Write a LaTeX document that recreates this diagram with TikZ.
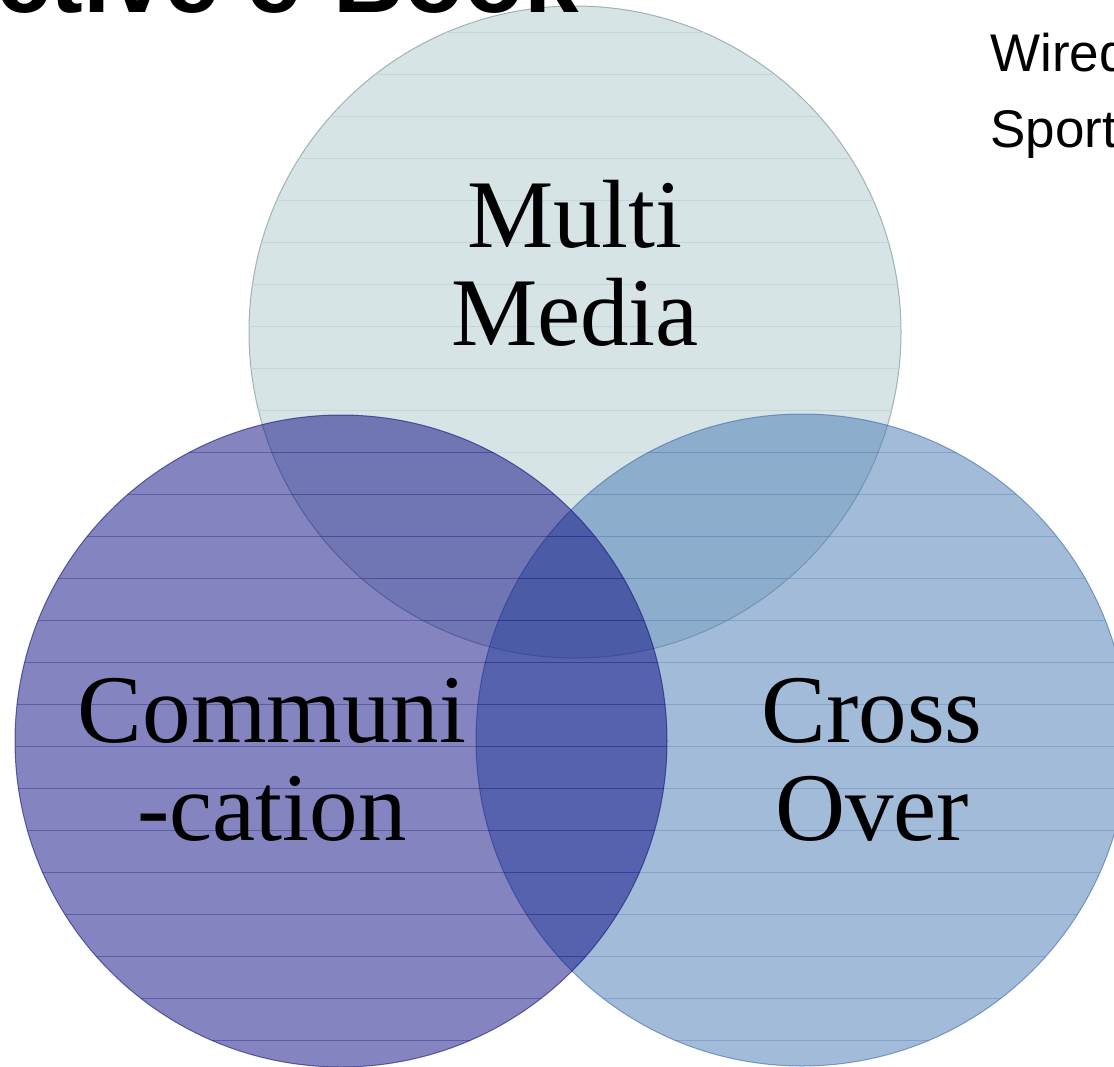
\documentclass[tikz,border=0pt]{standalone}
\usepackage{fontspec}
\newfontfamily\seriffont{Liberation Serif}
\newfontfamily\sansfont{Liberation Sans}
\definecolor{mediafill}{RGB}{214,228,230}
\definecolor{mediaedge}{RGB}{160,178,182}
\definecolor{mediarule}{RGB}{196,212,216}
\definecolor{commfill}{RGB}{10,10,130}
\definecolor{commrule}{RGB}{20,20,120}
\definecolor{crossfill}{RGB}{70,120,180}
\definecolor{crossrule}{RGB}{60,105,165}
\tikzset{
	venn/.style={
		circle, draw, line width=1pt, inner sep=0pt, minimum size=652pt},
	glass/.style={fill opacity=0.5, draw opacity=0.6},
	rule line/.style={line width=0.7pt},
}

\begin{document}
\begin{tikzpicture}[
			x=1pt, y=-1pt,
			venn text/.style={font=\seriffont\fontsize{97}{98}\selectfont,
				align=center, anchor=base, inner sep=0pt},
		]
		\useasboundingbox (0,0) rectangle (1114,1066);
		\clip (0,0) rectangle (1114,1066);
		%
		\node (media) [venn, fill=mediafill, draw=mediaedge] at (575,332) {};
		\begin{scope}
			\clip (media.center) circle [radius=326pt];
			\foreach \y in {32,74,...,1040}
				\draw [rule line, mediarule] (0,\y) -- (1114,\y);
		\end{scope}
		\node (cross) [venn, glass, fill=crossfill, draw=crossrule] at (802,740) {};
		\begin{scope}
			\clip (cross.center) circle [radius=326pt];
			\foreach \y in {32,74,...,1040}
				\draw [rule line, crossrule, opacity=0.3] (0,\y) -- (1114,\y);
		\end{scope}
		\node (comm) [venn, glass, fill=commfill, draw=commrule] at (341,741) {};
		\begin{scope}
			\clip (comm.center) circle [radius=326pt];
			\foreach \y in {32,74,...,1040}
				\draw [rule line, commrule, opacity=0.35] (0,\y) -- (1114,\y);
		\end{scope}
		%
		\node (media-text) [venn text] at (575,345) {Multi\\Media};
		\node (comm-text) [venn text] at (272,840) {Communi\\-cation};
		\node (cross-text) [venn text] at (872,840) {Cross\\Over};
		%
		\node (title) [anchor=base east, inner sep=0pt,
			font=\sansfont\bfseries\fontsize{98}{110}\selectfont] at (579,12)
			{ctive e-Book};
		\node (side-list) [anchor=base west, inner sep=0pt, align=left,
			font=\sansfont\fontsize{53}{76}\selectfont] at (990,147)
			{Wired\\Sport};
	\end{tikzpicture}
\end{document}
